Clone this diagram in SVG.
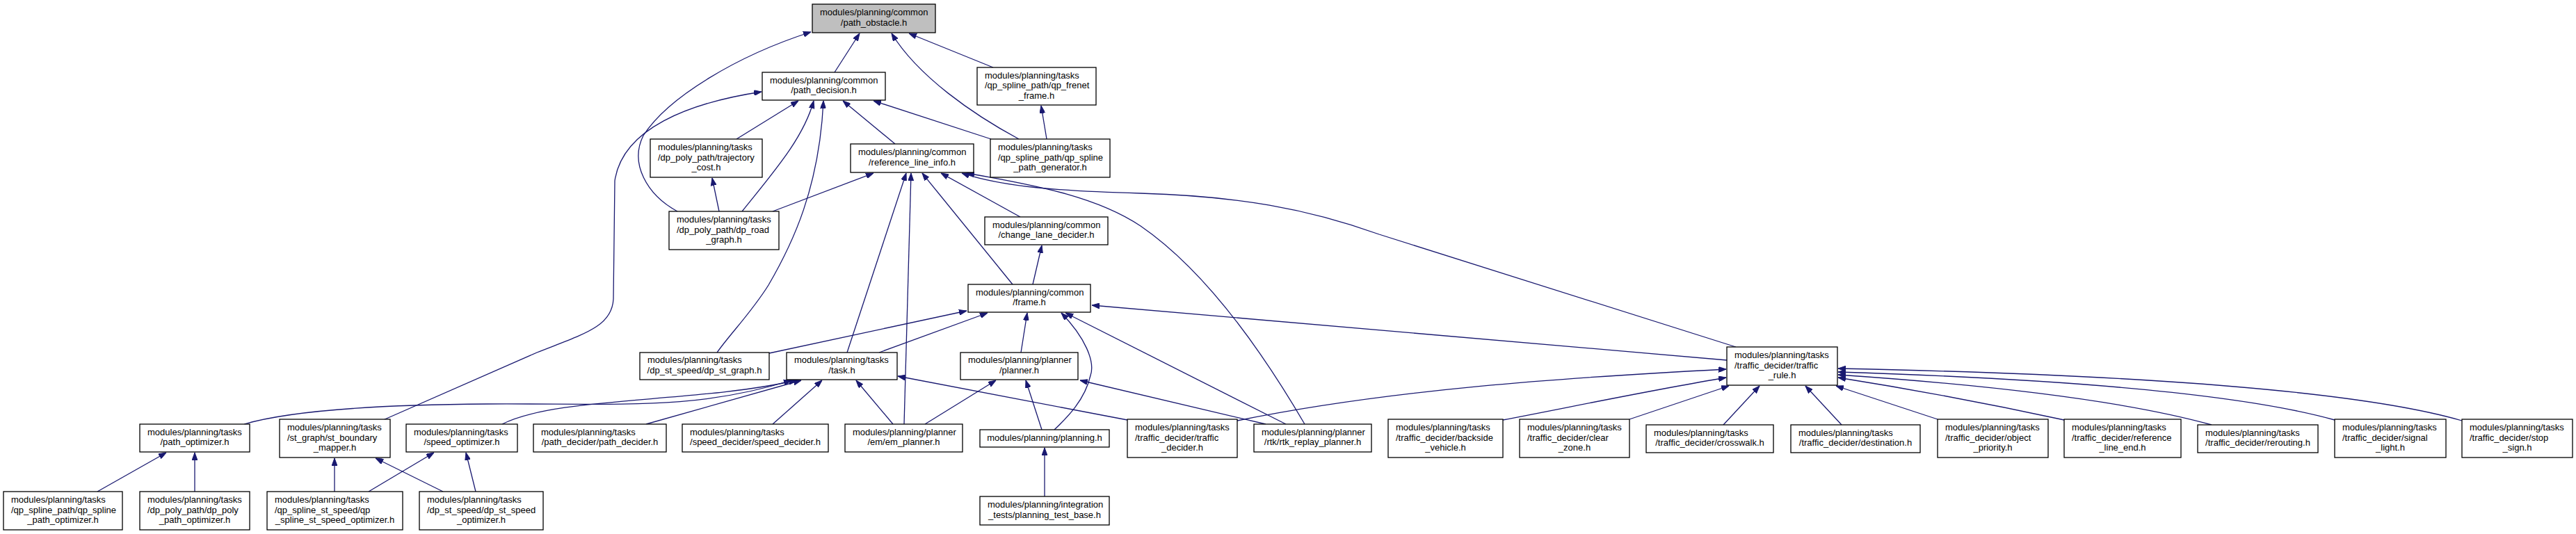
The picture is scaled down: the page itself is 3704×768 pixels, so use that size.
<svg xmlns="http://www.w3.org/2000/svg" width="3704" height="768" viewBox="0 0 3704 768">
<style>
.node rect{fill:#fff;stroke:#000;stroke-width:1.3}
.node.root rect{fill:#bfbfbf}
.node text{font-family:"Liberation Sans",Arial,sans-serif;font-size:13px;fill:#000}
.node text.c{text-anchor:middle}
.edge path{fill:none;stroke:#191970;stroke-width:1.3;marker-start:url(#arr)}
</style>
<defs>
<marker id="arr" markerWidth="11" markerHeight="8" refX="11" refY="4" orient="auto-start-reverse" markerUnits="userSpaceOnUse"><path d="M0,0 L11,4 L0,8 z" fill="#191970" stroke="#191970" stroke-width="1"/></marker>
</defs>
<rect x="0" y="0" width="3704" height="768" fill="#fff"/>
<g id="edges" class="edge">
<path d="M1236,48 L1200,104"/>
<path d="M1307,48 L1428,97"/>
<path d="M1282,48 C1320,110 1400,165 1465,200"/>
<path d="M1166,46 C1060,80 960,140 925,195 C905,235 930,280 974,304"/>
<path d="M1095,132 C990,148 895,185 884,260 L882,430 C880,470 840,480 772,507 L551,604"/>
<path d="M1148,145 L1059,200"/>
<path d="M1170,145 C1155,200 1110,250 1067,304"/>
<path d="M1184,145 C1178,270 1140,350 1105,410 C1080,450 1050,480 1031,507"/>
<path d="M1212,145 L1287,207"/>
<path d="M1256,145 L1425,200"/>
<path d="M1497,152 L1505,200"/>
<path d="M1024,256 L1034,304"/>
<path d="M1256,249 L1111,304"/>
<path d="M1303,249 L1218,507"/>
<path d="M1310,249 L1300,610"/>
<path d="M1326,249 L1456,409"/>
<path d="M1353,249 L1467,312"/>
<path d="M1383,249 C1440,268 1520,275 1640,278 C1780,282 1880,300 1983,337 L2496,499"/>
<path d="M1390,249 C1500,268 1580,285 1640,325 C1720,380 1800,480 1876,610"/>
<path d="M1498,353 L1485,409"/>
<path d="M1390,447 L1106,508"/>
<path d="M1420,450 L1264,507"/>
<path d="M1477,450 L1468,507"/>
<path d="M1526,450 C1560,485 1575,520 1568,540 C1560,575 1535,600 1516,618"/>
<path d="M1532,450 L1849,610"/>
<path d="M1570,439 L2483,518"/>
<path d="M1231,547 L1284,610"/>
<path d="M1182,547 L1111,610"/>
<path d="M1152,547 L929,610"/>
<path d="M1145,547 C1000,580 800,570 722,610"/>
<path d="M1138,547 C1000,590 900,580 700,581 C550,582 420,590 351,610"/>
<path d="M1291,541 L1621,604"/>
<path d="M1432,547 L1330,610"/>
<path d="M1475,547 L1498,618"/>
<path d="M1553,547 L1820,610"/>
<path d="M1502,644 L1502,714"/>
<path d="M2482,531 C2250,543 2000,560 1779,605"/>
<path d="M2482,543 C2380,560 2260,585 2161,604"/>
<path d="M2486,555 L2343,603"/>
<path d="M2530,555 L2478,611"/>
<path d="M2596,555 L2648,611"/>
<path d="M2640,555 L2786,603"/>
<path d="M2643,543 C2750,560 2880,585 2968,604"/>
<path d="M2643,539 C2850,553 3050,575 3180,611"/>
<path d="M2643,535 C2900,543 3200,560 3357,604"/>
<path d="M2643,530 C2900,535 3350,550 3540,605"/>
<path d="M239,651 L140,707"/>
<path d="M280,651 L280,707"/>
<path d="M481,659 L481,707"/>
<path d="M540,659 L637,707"/>
<path d="M624,651 L530,707"/>
<path d="M670,651 L684,707"/>
</g>
<g id="path_obstacle" class="node root"><rect x="1168" y="6" width="177" height="41"/><text x="1179" y="22.25">modules/planning/common</text><text class="c" x="1256.5" y="36.75">/path_obstacle.h</text></g>
<g id="path_decision" class="node"><rect x="1096" y="104" width="177" height="40"/><text x="1107" y="119.75">modules/planning/common</text><text class="c" x="1184.5" y="134.25">/path_decision.h</text></g>
<g id="qp_frenet_frame" class="node"><rect x="1405" y="97" width="171" height="54"/><text x="1416" y="112.5">modules/planning/tasks</text><text x="1416" y="127">/qp_spline_path/qp_frenet</text><text class="c" x="1490.5" y="141.5">_frame.h</text></g>
<g id="trajectory_cost" class="node"><rect x="935" y="200" width="161" height="55"/><text x="946" y="216">modules/planning/tasks</text><text x="946" y="230.5">/dp_poly_path/trajectory</text><text class="c" x="1015.5" y="245">_cost.h</text></g>
<g id="reference_line_info" class="node"><rect x="1223" y="207" width="177" height="41"/><text x="1234" y="223.25">modules/planning/common</text><text class="c" x="1311.5" y="237.75">/reference_line_info.h</text></g>
<g id="qp_spline_path_generator" class="node"><rect x="1424" y="200" width="172" height="55"/><text x="1435" y="216">modules/planning/tasks</text><text x="1435" y="230.5">/qp_spline_path/qp_spline</text><text class="c" x="1510" y="245">_path_generator.h</text></g>
<g id="dp_road_graph" class="node"><rect x="962" y="304" width="158" height="55"/><text x="973" y="320">modules/planning/tasks</text><text x="973" y="334.5">/dp_poly_path/dp_road</text><text class="c" x="1041" y="349">_graph.h</text></g>
<g id="change_lane_decider" class="node"><rect x="1416" y="312" width="177" height="40"/><text x="1427" y="327.75">modules/planning/common</text><text class="c" x="1504.5" y="342.25">/change_lane_decider.h</text></g>
<g id="frame" class="node"><rect x="1392" y="409" width="176" height="40"/><text x="1403" y="424.75">modules/planning/common</text><text class="c" x="1480" y="439.25">/frame.h</text></g>
<g id="dp_st_graph" class="node"><rect x="920" y="507" width="186" height="39"/><text x="931" y="522.25">modules/planning/tasks</text><text class="c" x="1013" y="536.75">/dp_st_speed/dp_st_graph.h</text></g>
<g id="task" class="node"><rect x="1131" y="507" width="159" height="39"/><text x="1142" y="522.25">modules/planning/tasks</text><text class="c" x="1210.5" y="536.75">/task.h</text></g>
<g id="planner" class="node"><rect x="1381" y="507" width="169" height="39"/><text x="1392" y="522.25">modules/planning/planner</text><text class="c" x="1465.5" y="536.75">/planner.h</text></g>
<g id="traffic_rule" class="node"><rect x="2483" y="499" width="159" height="55"/><text x="2494" y="515">modules/planning/tasks</text><text x="2494" y="529.5">/traffic_decider/traffic</text><text class="c" x="2562.5" y="544">_rule.h</text></g>
<g id="path_optimizer" class="node"><rect x="201" y="610" width="158" height="40"/><text x="212" y="625.75">modules/planning/tasks</text><text class="c" x="280" y="640.25">/path_optimizer.h</text></g>
<g id="st_boundary_mapper" class="node"><rect x="402" y="603" width="159" height="55"/><text x="413" y="619">modules/planning/tasks</text><text x="413" y="633.5">/st_graph/st_boundary</text><text class="c" x="481.5" y="648">_mapper.h</text></g>
<g id="speed_optimizer" class="node"><rect x="584" y="610" width="160" height="40"/><text x="595" y="625.75">modules/planning/tasks</text><text class="c" x="664" y="640.25">/speed_optimizer.h</text></g>
<g id="path_decider" class="node"><rect x="767" y="610" width="191" height="40"/><text x="778" y="625.75">modules/planning/tasks</text><text class="c" x="862.5" y="640.25">/path_decider/path_decider.h</text></g>
<g id="speed_decider" class="node"><rect x="981" y="610" width="210" height="40"/><text x="992" y="625.75">modules/planning/tasks</text><text class="c" x="1086" y="640.25">/speed_decider/speed_decider.h</text></g>
<g id="em_planner" class="node"><rect x="1215" y="610" width="169" height="40"/><text x="1226" y="625.75">modules/planning/planner</text><text class="c" x="1299.5" y="640.25">/em/em_planner.h</text></g>
<g id="planning" class="node"><rect x="1409" y="618" width="186" height="25"/><text class="c" x="1502" y="633.5">modules/planning/planning.h</text></g>
<g id="traffic_decider" class="node"><rect x="1621" y="603" width="158" height="55"/><text x="1632" y="619">modules/planning/tasks</text><text x="1632" y="633.5">/traffic_decider/traffic</text><text class="c" x="1700" y="648">_decider.h</text></g>
<g id="rtk_replay_planner" class="node"><rect x="1803" y="610" width="169" height="40"/><text x="1814" y="625.75">modules/planning/planner</text><text class="c" x="1887.5" y="640.25">/rtk/rtk_replay_planner.h</text></g>
<g id="backside_vehicle" class="node"><rect x="1996" y="603" width="165" height="55"/><text x="2007" y="619">modules/planning/tasks</text><text x="2007" y="633.5">/traffic_decider/backside</text><text class="c" x="2078.5" y="648">_vehicle.h</text></g>
<g id="clear_zone" class="node"><rect x="2185" y="603" width="158" height="55"/><text x="2196" y="619">modules/planning/tasks</text><text x="2196" y="633.5">/traffic_decider/clear</text><text class="c" x="2264" y="648">_zone.h</text></g>
<g id="crosswalk" class="node"><rect x="2367" y="611" width="183" height="40"/><text x="2378" y="626.75">modules/planning/tasks</text><text class="c" x="2458.5" y="641.25">/traffic_decider/crosswalk.h</text></g>
<g id="destination" class="node"><rect x="2575" y="611" width="186" height="40"/><text x="2586" y="626.75">modules/planning/tasks</text><text class="c" x="2668" y="641.25">/traffic_decider/destination.h</text></g>
<g id="object_priority" class="node"><rect x="2786" y="603" width="159" height="55"/><text x="2797" y="619">modules/planning/tasks</text><text x="2797" y="633.5">/traffic_decider/object</text><text class="c" x="2865.5" y="648">_priority.h</text></g>
<g id="reference_line_end" class="node"><rect x="2968" y="603" width="168" height="55"/><text x="2979" y="619">modules/planning/tasks</text><text x="2979" y="633.5">/traffic_decider/reference</text><text class="c" x="3052" y="648">_line_end.h</text></g>
<g id="rerouting" class="node"><rect x="3160" y="611" width="173" height="40"/><text x="3171" y="626.75">modules/planning/tasks</text><text class="c" x="3246.5" y="641.25">/traffic_decider/rerouting.h</text></g>
<g id="signal_light" class="node"><rect x="3357" y="603" width="160" height="55"/><text x="3368" y="619">modules/planning/tasks</text><text x="3368" y="633.5">/traffic_decider/signal</text><text class="c" x="3437" y="648">_light.h</text></g>
<g id="stop_sign" class="node"><rect x="3540" y="603" width="159" height="55"/><text x="3551" y="619">modules/planning/tasks</text><text x="3551" y="633.5">/traffic_decider/stop</text><text class="c" x="3619.5" y="648">_sign.h</text></g>
<g id="qp_spline_path_optimizer" class="node"><rect x="5" y="707" width="171" height="55"/><text x="16" y="723">modules/planning/tasks</text><text x="16" y="737.5">/qp_spline_path/qp_spline</text><text class="c" x="90.5" y="752">_path_optimizer.h</text></g>
<g id="dp_poly_path_optimizer" class="node"><rect x="201" y="707" width="158" height="55"/><text x="212" y="723">modules/planning/tasks</text><text x="212" y="737.5">/dp_poly_path/dp_poly</text><text class="c" x="280" y="752">_path_optimizer.h</text></g>
<g id="qp_spline_st_speed_optimizer" class="node"><rect x="384" y="707" width="195" height="55"/><text x="395" y="723">modules/planning/tasks</text><text x="395" y="737.5">/qp_spline_st_speed/qp</text><text class="c" x="481.5" y="752">_spline_st_speed_optimizer.h</text></g>
<g id="dp_st_speed_optimizer" class="node"><rect x="603" y="707" width="178" height="55"/><text x="614" y="723">modules/planning/tasks</text><text x="614" y="737.5">/dp_st_speed/dp_st_speed</text><text class="c" x="692" y="752">_optimizer.h</text></g>
<g id="planning_test_base" class="node"><rect x="1409" y="714" width="186" height="41"/><text x="1420" y="730.25">modules/planning/integration</text><text class="c" x="1502" y="744.75">_tests/planning_test_base.h</text></g>
</svg>
